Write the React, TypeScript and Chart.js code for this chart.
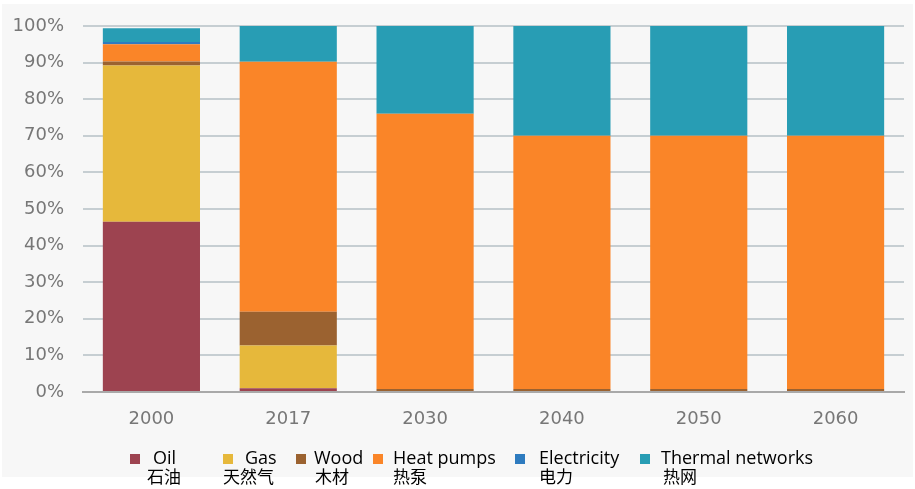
import React, { useEffect, useRef } from "react";
import { Chart, registerables } from "chart.js";

Chart.register(...registerables);

// Share of heating by source, in percent of the total
const categories = ["2000", "2017", "2030", "2040", "2050", "2060"];
const oil = [46.5, 1.0, 0, 0, 0, 0];
const gas = [42.7, 11.7, 0, 0, 0, 0];
const wood = [1.1, 9.2, 0.8, 0.8, 0.8, 0.8];
const heatPumps = [4.7, 68.3, 75.2, 69.2, 69.2, 69.2];
const electricity = [0.6, 0, 0, 0, 0, 0];
const thermalNetworks = [3.8, 9.8, 24.0, 30.0, 30.0, 30.0];

const seriesNames = ["Oil", "Gas", "Wood", "Heat pumps", "Electricity", "Thermal networks"];
const seriesNamesZh = ["石油", "天然气", "木材", "热泵", "电力", "热网"];
const seriesColors = ["#9d4350", "#e6b83b", "#9b6230", "#fa8528", "#2e7bbf", "#289db4"];
const seriesValues = [oil, gas, wood, heatPumps, electricity, thermalNetworks];

// Legend item placement: square, English caption and Chinese caption left edges
const legendSquareX = [130, 223, 296, 373, 515, 640];
const legendEnX = [153, 245, 314, 393, 539, 661];
const legendZhX = [147, 223, 315, 393, 539, 663];

const backgroundPlugin = {
  id: "panelBackground",
  beforeDraw(chart: Chart) {
    const ctx = chart.ctx;
    ctx.save();
    ctx.fillStyle = "#ffffff";
    ctx.fillRect(0, 0, chart.width, chart.height);
    ctx.fillStyle = "#f7f7f7";
    ctx.fillRect(2, 4, 911, 473);
    ctx.restore();
  },
};

const legendPlugin = {
  id: "bilingualLegend",
  afterDraw(chart: Chart) {
    const ctx = chart.ctx;
    ctx.save();
    ctx.textBaseline = "middle";
    ctx.textAlign = "left";
    seriesNames.forEach((name, i) => {
      ctx.fillStyle = seriesColors[i];
      ctx.fillRect(legendSquareX[i], 454, 10, 10);
      ctx.fillStyle = "#000000";
      ctx.font = '18px "Open Sans"';
      ctx.fillText(name, legendEnX[i], 459);
      ctx.font = '17px "Noto Sans CJK SC"';
      ctx.fillText(seriesNamesZh[i], legendZhX[i], 477);
    });
    ctx.restore();
  },
};

export default function App() {
  const canvasRef = useRef<HTMLCanvasElement>(null);

  useEffect(() => {
    document.body.style.margin = "0";
    const chart = new Chart(canvasRef.current!, {
      type: "bar",
      data: {
        labels: categories,
        datasets: seriesNames.map((name, i) => ({
          label: name,
          data: seriesValues[i],
          backgroundColor: seriesColors[i],
          borderWidth: 0,
          barPercentage: 0.71,
          categoryPercentage: 1,
        })),
      },
      options: {
        responsive: false,
        animation: false,
        devicePixelRatio: 1,
        layout: { padding: { left: 0, right: 11, top: 26, bottom: 0 } },
        plugins: {
          legend: { display: false },
          tooltip: { enabled: false },
        },
        scales: {
          x: {
            stacked: true,
            grid: { display: false, drawTicks: false },
            border: { display: true, color: "#a9a9a9", width: 2 },
            ticks: {
              color: "#777777",
              font: { family: "DejaVu Sans", size: 18 },
              padding: 17,
            },
            afterFit: (s: any) => {
              s.height = 97;
            },
          },
          y: {
            stacked: true,
            min: 0,
            max: 100,
            grid: { color: "#c6ced2", lineWidth: 2, drawTicks: false },
            border: { display: false },
            ticks: {
              stepSize: 10,
              color: "#777777",
              font: { family: "DejaVu Sans", size: 18 },
              padding: 19,
              callback: (v: any) => v + "%",
            },
            afterFit: (s: any) => {
              s.width = 83;
              s.paddingTop = 0;
              s.paddingBottom = 0;
            },
          },
        },
      },
      plugins: [backgroundPlugin, legendPlugin],
    });
    return () => chart.destroy();
  }, []);

  return (
    <div style={{ width: 915, height: 489, position: "relative" }}>
      <canvas ref={canvasRef} width={915} height={489} />
    </div>
  );
}
